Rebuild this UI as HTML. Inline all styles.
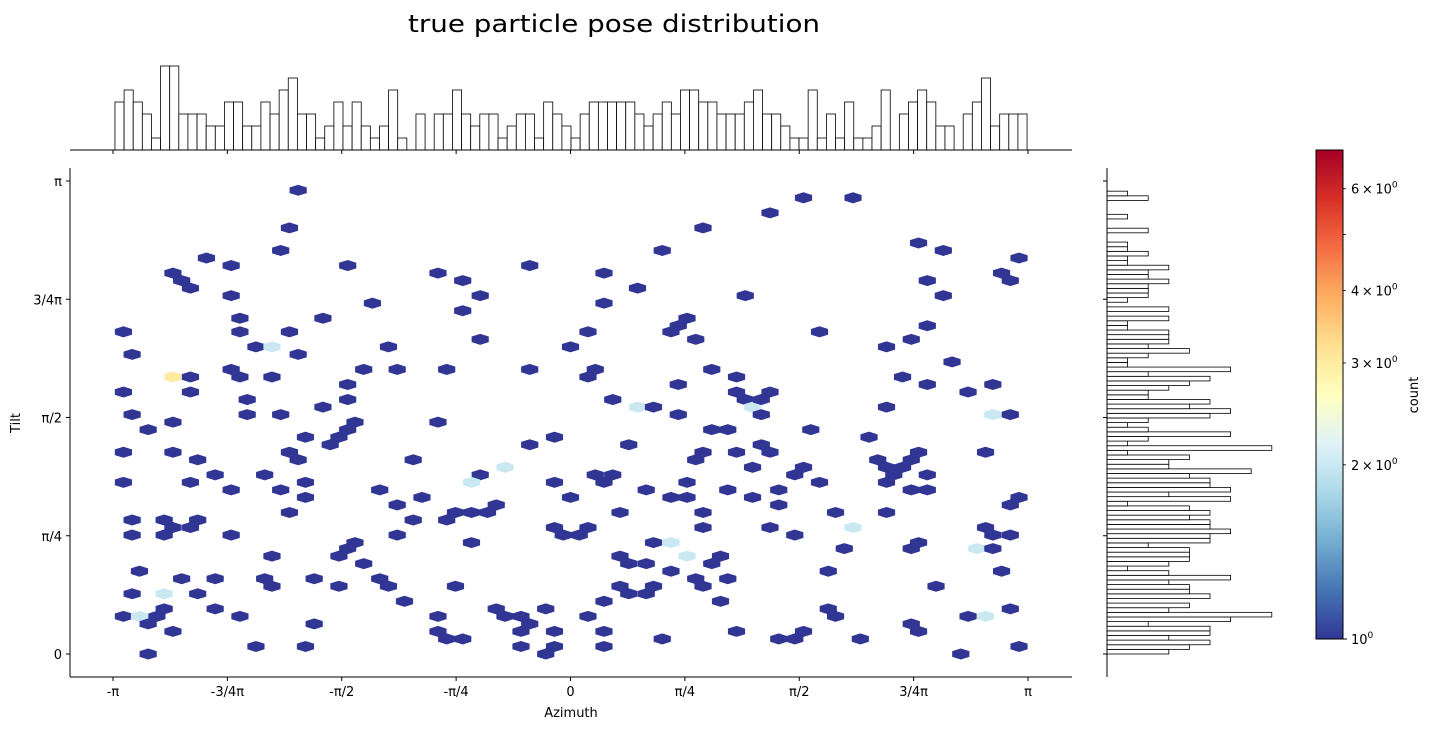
<!DOCTYPE html>
<html><head><meta charset="utf-8"><style>
html,body{margin:0;padding:0;background:#fff;}
svg{display:block;font-family:"DejaVu Sans","Liberation Sans",sans-serif;}
</style></head>
<body>
<svg id="chart" width="1431" height="730" viewBox="0 0 1431 730" xmlns="http://www.w3.org/2000/svg">
  <defs>
    <linearGradient id="cbgrad" x1="0" y1="1" x2="0" y2="0"></linearGradient>
  </defs>
  <text x="408" y="32" font-size="24" textLength="412" lengthAdjust="spacingAndGlyphs" fill="#000">true particle pose distribution</text>
  <g id="tophist"></g>
  <g id="righthist"></g>
  <g id="hexes"></g>
  <g id="axes"></g>
  <g id="cbar"></g>
  <text x="571" y="717" font-size="13" text-anchor="middle">Azimuth</text>
  <text x="20" y="423" font-size="13" text-anchor="middle" transform="rotate(-90 20 423)">Tilt</text>
  <text x="1418" y="395" font-size="13" text-anchor="middle" transform="rotate(-90 1418 395)">count</text>
</svg>
<script>
const PI = Math.PI;
const xTickValues = [-PI, -3*PI/4, -PI/2, -PI/4, 0, PI/4, PI/2, 3*PI/4, PI];
const xTickLabels = ["-π", "-3/4π", "-π/2", "-π/4", "0", "π/4", "π/2", "3/4π", "π"];
const yTickValues = [0, PI/4, PI/2, 3*PI/4, PI];
const yTickLabels = ["0", "π/4", "π/2", "3/4π", "π"];
const azRange = [-3.128, 3.135];
const tiltRange = [0, 3.074];
const azimuthBinCounts = [
4,5,4,3,1,7,7,3,3,3, 2,2,4,4,2,2,4,3,5,6, 3,3,1,2,4,2,4,2,1,2, 5,1,0,3,0,3,3,5,3,2,
3,3,1,2,3,3,1,4,3,2, 1,3,4,4,4,4,4,3,2,3, 4,3,5,5,4,4,3,3,3,4, 5,3,3,2,1,1,5,1,3,1,
4,1,1,2,5,0,3,4,5,4, 2,2,0,3,4,6,2,3,3,3];
const tiltBinCounts = [
3,4,5,3,5,5,2,6,8,3, 4,0,5,4,4,3,6,3,1,3, 4,4,4,2,5,5,6,5,5,4, 5,4,1,6,3,6,5,5,4,7,
3,3,4,1,8,1,2,6,2,1, 2,5,6,4,5,2,2,3,4,5, 2,6,1,1,2,4,2,3,3,3, 1,1,3,0,3,0,1,2,2,2,
3,2,2,3,1,1,2,1,1,0, 0,2,0,0,1,0,0,0,2,1];
const hexAzimuth = [
-1.87,-1.93,-1.99,-2.50,-2.33,-1.53,-2.73,-2.67,-2.61,-2.33,
-1.36,-2.27,-1.70,-3.07,-2.27,-1.93,-2.16,-2.05,-1.25,-3.01,
-1.87,-2.33,-1.42,-1.19,-2.73,-2.61,-2.27,-2.05,-1.53,-3.07,
-2.61,-2.22,-1.53,-1.70,-3.01,-2.22,-1.99,-2.73,-1.48,-2.90,
-1.53,-1.82,-1.59,-1.65,-3.07,-2.73,-1.93,-1.87,-2.56,-1.08,
-2.44,-2.10,-3.07,-2.61,-1.82,-2.33,-1.99,-1.31,-1.82,-1.02,
-1.19,-1.93,-3.01,-2.79,-2.56,-1.08,-2.73,-2.61,-3.01,-2.79,
-2.33,-1.19,-1.48,-1.53,-2.05,-1.59,-1.42,-2.96,-2.67,-2.44,
-2.10,-1.76,-1.31,-2.05,-1.59,-1.25,-3.01,-2.79,-2.56,-1.14,
-2.79,-2.44,-3.07,-2.96,-2.84,-2.27,-2.90,-1.76,-2.73,-2.16,
-1.82,-2.90,0.91,0.63,-0.91,-0.74,-0.28,0.23,-0.62,0.46,
1.20,-0.74,0.23,0.80,0.74,0.69,0.86,0.12,-0.62,0.00,
-0.85,-0.28,0.17,0.12,0.97,1.14,0.74,1.14,1.20,0.29,
0.46,0.57,0.74,-0.91,1.25,0.97,1.08,-0.11,-0.28,0.40,
0.91,1.14,0.86,1.25,-0.45,-0.62,-0.68,-0.11,0.17,0.29,
0.23,0.52,0.80,1.08,0.00,0.69,0.80,1.25,-0.51,-0.57,
-0.68,-0.79,-0.85,0.34,0.91,-0.11,0.12,-0.05,0.06,0.91,
-0.68,0.57,0.69,0.34,0.40,0.52,0.80,1.03,0.97,0.69,
0.86,0.91,1.08,-0.79,0.34,0.57,0.40,0.52,0.23,1.03,
-0.51,-0.45,-0.34,-0.28,-0.17,-0.91,0.12,-0.91,-0.85,-0.74,
-0.34,-0.11,0.23,1.14,0.63,-0.34,-0.11,-0.17,0.23,1.60,
1.94,1.37,2.39,2.56,3.08,2.96,3.02,2.45,2.56,2.45,
2.34,2.17,1.71,2.62,2.28,2.45,2.90,2.73,1.37,1.31,
1.31,2.17,2.90,3.02,1.65,2.05,1.31,1.37,1.60,1.54,
1.71,1.43,1.43,1.82,2.17,1.37,1.54,1.94,1.88,1.77,
1.77,1.82,1.60,1.54,1.43,1.99,2.11,2.17,2.22,2.17,
2.28,2.34,2.39,2.45,2.34,2.45,2.85,3.08,3.02,2.85,
2.90,3.02,2.79,2.90,2.39,2.34,2.96,2.51,3.02,2.73,
2.85,2.34,2.39,2.68,3.08];
const hexTilt = [
3.08,2.83,2.68,2.63,2.58,2.58,2.53,2.48,2.43,2.38,
2.33,2.23,2.23,2.14,2.14,2.14,2.04,2.04,2.04,1.99,
1.99,1.89,1.89,1.89,1.84,1.84,1.84,1.84,1.79,1.74,
1.74,1.69,1.69,1.64,1.59,1.59,1.59,1.54,1.54,1.49,
1.49,1.44,1.44,1.39,1.34,1.34,1.34,1.29,1.29,1.29,
1.19,1.19,1.14,1.14,1.14,1.09,1.09,1.09,1.04,1.04,
0.99,0.94,0.89,0.89,0.89,0.89,0.84,0.84,0.79,0.79,
0.79,0.79,0.74,0.70,0.65,0.65,0.60,0.55,0.50,0.50,
0.50,0.50,0.50,0.45,0.45,0.45,0.40,0.40,0.40,0.35,
0.30,0.30,0.25,0.25,0.25,0.25,0.20,0.20,0.15,0.05,
0.05,0,2.83,2.68,2.53,2.48,2.58,2.53,2.38,2.43,
2.38,2.28,2.33,2.23,2.18,2.14,2.09,2.14,2.09,2.04,
1.89,1.89,1.89,1.84,1.89,1.84,1.79,1.74,1.69,1.69,
1.64,1.64,1.59,1.54,1.64,1.49,1.49,1.44,1.39,1.39,
1.34,1.34,1.29,1.24,1.24,1.19,1.14,1.14,1.19,1.19,
1.14,1.09,1.14,1.09,1.04,1.04,1.04,1.04,0.99,0.94,
0.94,0.94,0.89,0.94,0.94,0.84,0.84,0.79,0.79,0.84,
0.74,0.74,0.74,0.65,0.60,0.60,0.65,0.65,0.60,0.55,
0.50,0.45,0.50,0.45,0.45,0.45,0.40,0.40,0.35,0.35,
0.30,0.25,0.25,0.20,0.30,0.25,0.25,0.15,0.10,0.10,
0.15,0.15,0.15,0.15,0.10,0.05,0.05,0,0.05,3.03,
3.03,2.93,2.73,2.68,2.63,2.53,2.48,2.48,2.38,2.18,
2.09,2.04,2.14,1.94,1.84,1.79,1.79,1.74,1.74,1.69,
1.59,1.64,1.59,1.59,1.49,1.44,1.39,1.34,1.24,1.19,
1.14,1.09,0.99,0.94,0.94,0.84,0.79,0.84,0.70,0.55,
0.30,0.25,0.15,0.10,0.10,0.10,1.29,1.24,1.19,1.14,
1.24,1.29,1.34,1.19,1.09,1.09,1.34,1.04,0.99,0.84,
0.79,0.79,0.70,0.70,0.74,0.70,0.55,0.45,0.30,0.25,
0.25,0.20,0.15,0,0.05];
const hexCount = [
1,1,1,1,1,1,1,1,1,1, 1,1,1,1,1,1,1,2,1,1, 1,1,1,1,3,1,1,1,1,1,
1,1,1,1,1,1,1,1,1,1, 1,1,1,1,1,1,1,1,1,1, 1,1,1,1,1,1,1,1,1,1,
1,1,1,1,1,1,1,1,1,1, 1,1,1,1,1,1,1,1,1,1, 1,1,1,1,1,1,1,2,1,1,
1,1,1,2,1,1,1,1,1,1, 1,1,1,1,1,1,1,1,1,1, 1,1,1,1,1,1,1,1,1,1,
1,1,1,1,1,1,1,1,1,1, 2,1,1,1,2,1,1,1,1,1, 1,1,1,1,2,1,2,1,1,1,
1,1,1,1,1,1,1,1,1,1, 1,1,1,1,1,1,1,1,1,1, 1,1,2,1,1,1,2,1,1,1,
1,1,1,1,1,1,1,1,1,1, 1,1,1,1,1,1,1,1,1,1, 1,1,1,1,1,1,1,1,1,1,
1,1,1,1,1,1,1,1,1,1, 1,1,1,1,1,1,1,1,1,1, 1,1,2,1,1,1,1,1,1,1,
1,1,1,1,1,1,1,2,1,1, 1,1,1,1,1,1,1,1,1,1, 1,1,1,1,1,1,1,1,1,1,
1,1,2,1,1,1,1,1,1,1, 2,1,1,1,1];
const colorbarMax = 7;
const colorbarMinorTicks = [2, 3, 4, 5, 6];
const colorbarMinorLabels = ["2", "3", "4", "", "6"];

const NS = "http://www.w3.org/2000/svg";
function mk(tag, attrs, parent) {
  const el = document.createElementNS(NS, tag);
  for (const k in attrs) el.setAttribute(k, attrs[k]);
  parent.appendChild(el);
  return el;
}
const X = az => 570.5 + az * 145.63;
const Y = t => 654 - t * 150.56;
const topY = c => 150 - c * 12;
const rightX = c => 1107 + c * 20.6;
const cbY = v => 639 - Math.log10(v) / Math.log10(colorbarMax) * 489;

const stops = ["#313695","#4575b4","#74add1","#abd9e9","#e0f3f8","#ffffbf","#fee090","#fdae61","#f46d43","#d73027","#a50026"];
function hexToRgb(h){return [1,3,5].map(i=>parseInt(h.substr(i,2),16));}
function cmap(t){
  t = Math.max(0, Math.min(1, t));
  const p = t * 10, i = Math.min(9, Math.floor(p)), f = p - i;
  const a = hexToRgb(stops[i]), b = hexToRgb(stops[i+1]);
  return "rgb(" + a.map((v,k)=>Math.round(v + (b[k]-v)*f)).join(",") + ")";
}

// top histogram
const th = document.getElementById("tophist");
const azW = (azRange[1] - azRange[0]) / azimuthBinCounts.length;
azimuthBinCounts.forEach((c, i) => {
  if (c <= 0) return;
  const x0 = X(azRange[0] + i * azW), x1 = X(azRange[0] + (i + 1) * azW);
  const r = mk("rect", {x: x0, y: topY(c), width: x1 - x0, height: 150 - topY(c), fill: "#fff", stroke: "#000", "stroke-width": 0.8}, th);
  
  
});
const tsp = mk("line", {x1: 70, x2: 1072, y1: 150, y2: 150, stroke: "#000", "stroke-width": 1}, th);


xTickValues.forEach(v => {
  const t = mk("line", {x1: X(v), x2: X(v), y1: 150, y2: 154, stroke: "#000", "stroke-width": 1}, th);
  
  
});

// right histogram
const rh = document.getElementById("righthist");
const tW = (tiltRange[1] - tiltRange[0]) / tiltBinCounts.length;
tiltBinCounts.forEach((c, i) => {
  if (c <= 0) return;
  const y0 = Y(tiltRange[0] + (i + 1) * tW), y1 = Y(tiltRange[0] + i * tW);
  const r = mk("rect", {x: 1107, y: y0, width: rightX(c) - 1107, height: y1 - y0, fill: "#fff", stroke: "#000", "stroke-width": 0.8}, rh);
  
  
});
const rsp = mk("line", {x1: 1107, x2: 1107, y1: 168, y2: 677, stroke: "#000", "stroke-width": 1}, rh);


yTickValues.forEach(v => {
  const t = mk("line", {x1: 1103, x2: 1107, y1: Y(v), y2: Y(v), stroke: "#000", "stroke-width": 1}, rh);
  
  
});

// hexes
const hg = document.getElementById("hexes");
const hw = 8.29, ha = 2.6, hb = 5.2;
hexAzimuth.forEach((az, i) => {
  const cx = X(az), cy = Y(hexTilt[i]);
  const pts = [[hw,-ha],[hw,ha],[0,hb],[-hw,ha],[-hw,-ha],[0,-hb]].map(p => (cx+p[0]).toFixed(2)+","+(cy+p[1]).toFixed(2)).join(" ");
  const col = cmap(Math.log(hexCount[i]) / Math.log(colorbarMax));
  const h = mk("polygon", {points: pts, fill: col, stroke: col, "stroke-width": 0.6}, hg);
  
  
});

// axes
const ax = document.getElementById("axes");
const ls = mk("line", {x1: 70, x2: 70, y1: 168, y2: 677, stroke: "#000", "stroke-width": 1}, ax);


const bs = mk("line", {x1: 70, x2: 1072, y1: 677, y2: 677, stroke: "#000", "stroke-width": 1}, ax);


xTickValues.forEach((v, i) => {
  const t = mk("line", {x1: X(v), x2: X(v), y1: 677, y2: 681, stroke: "#000", "stroke-width": 1}, ax);
  
  
  const l = mk("text", {x: X(v), y: 696, "font-size": 13, "text-anchor": "middle"}, ax);
  l.textContent = xTickLabels[i];
  
  
});
yTickValues.forEach((v, i) => {
  const t = mk("line", {x1: 66, x2: 70, y1: Y(v), y2: Y(v), stroke: "#000", "stroke-width": 1}, ax);
  
  
  const l = mk("text", {x: 62, y: Y(v) + 5, "font-size": 13, "text-anchor": "end"}, ax);
  l.textContent = yTickLabels[i];
  
  
});

// colorbar
const grad = document.getElementById("cbgrad");
for (let k = 0; k <= 20; k++) {
  mk("stop", {offset: (k/20), "stop-color": cmap(k/20)}, grad);
}
const cb = document.getElementById("cbar");
const cbr = mk("rect", {x: 1316, y: 150, width: 27, height: 489, fill: "url(#cbgrad)", stroke: "#000", "stroke-width": 1}, cb);


function cbLabel(y, mant) {
  const t = mk("text", {x: 1351, y: y + 5, "font-size": 13}, cb);
  
  
  const a = document.createElementNS(NS, "tspan");
  a.textContent = (mant ? mant + "\u2009\u00d7\u200910" : "10");
  t.appendChild(a);
  const s = document.createElementNS(NS, "tspan");
  s.setAttribute("dy", "-6");
  s.setAttribute("font-size", "9");
  s.textContent = "0";
  t.appendChild(s);
}
const mt = mk("line", {x1: 1343, x2: 1347, y1: cbY(1), y2: cbY(1), stroke: "#000", "stroke-width": 1}, cb);


cbLabel(cbY(1), "");
colorbarMinorTicks.forEach((v, i) => {
  const t = mk("line", {x1: 1343, x2: 1346, y1: cbY(v), y2: cbY(v), stroke: "#000", "stroke-width": 0.8}, cb);
  
  
  if (colorbarMinorLabels[i]) cbLabel(cbY(v), colorbarMinorLabels[i]);
});
</script>
</body></html>
